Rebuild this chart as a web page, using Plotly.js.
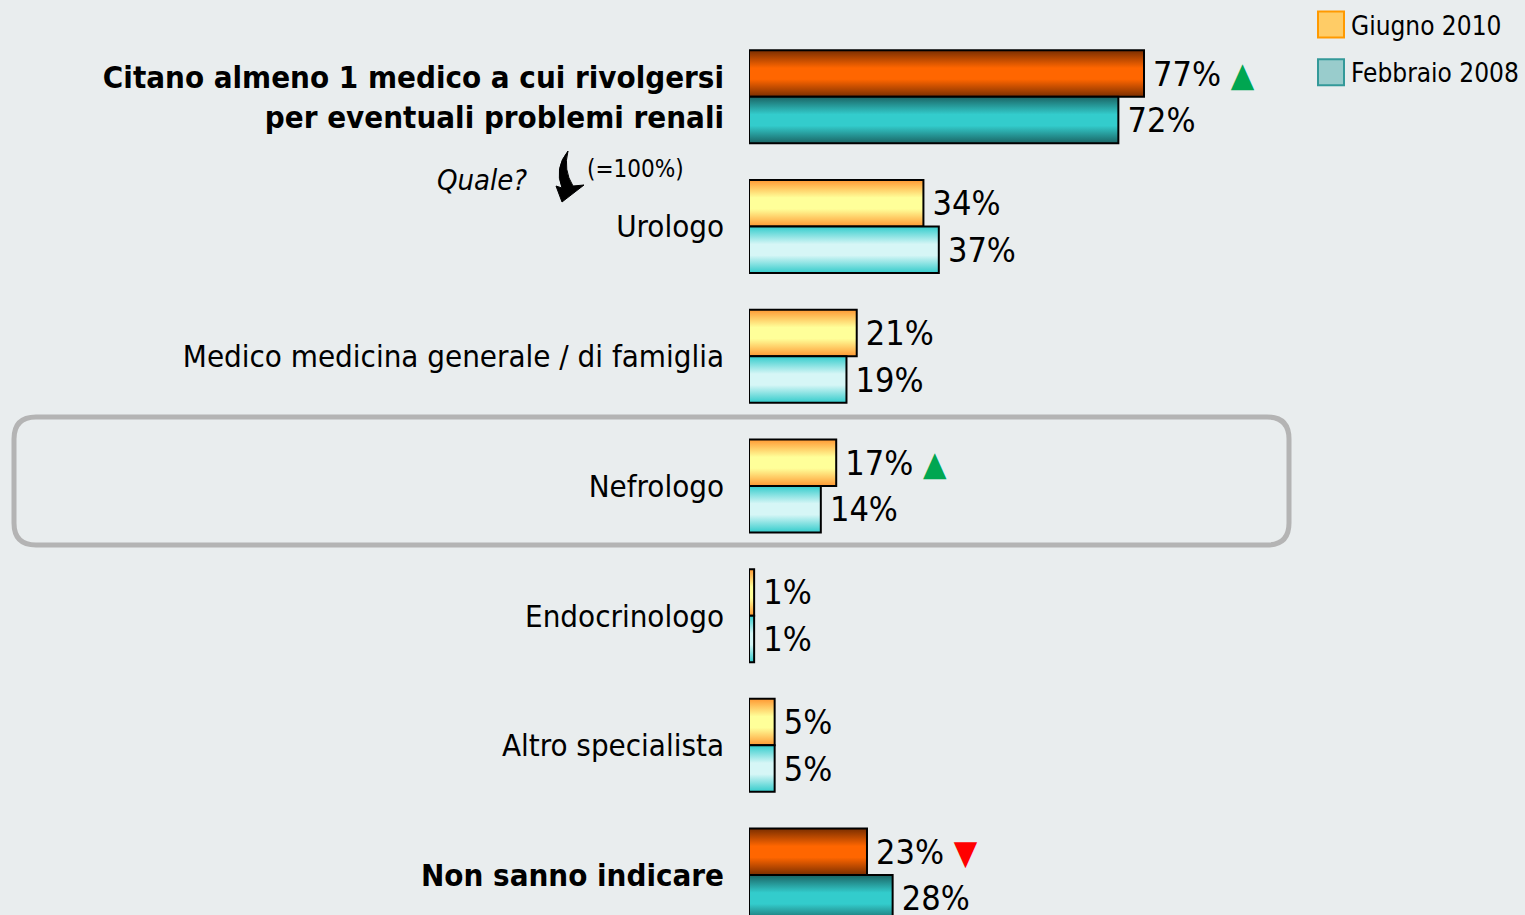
<!DOCTYPE html>
<html>
<head>
<meta charset="utf-8">
<script src="https://cdn.plot.ly/plotly-3.0.1.min.js"></script>
<style>html,body{margin:0;padding:0;background:#E9EDEE;}#chart{width:1525px;height:915px;}</style>
</head>
<body>
<div id="chart"></div>
<script>
// ---- data ----
const categories = [
  '<b>Citano almeno 1 medico a cui rivolgersi<br>per eventuali problemi renali</b>',
  'Urologo',
  'Medico medicina generale / di famiglia',
  'Nefrologo',
  'Endocrinologo',
  'Altro specialista',
  '<b>Non sanno indicare</b>'
];
const isTotal = [true, false, false, false, false, false, true];
const giugno2010 = [77, 34, 21, 17, 1, 5, 23];
const febbraio2008 = [72, 37, 19, 14, 1, 5, 28];
const trend2010 = ['up', '', '', 'up', '', '', 'down'];
const seriesNames = ['Giugno 2010', 'Febbraio 2008'];

// ---- layout helpers (pixel -> paper) ----
const FW = 1525, FH = 915;
const M = {l: 749, r: 263, t: 32, b: 0};
const PW = FW - M.l - M.r, PH = FH - M.t - M.b;
const px = x => (x - M.l) / PW;
const py = y => (FH - M.b - y) / PH;

const FONT = '"DejaVu Sans Condensed", "DejaVu Sans", Verdana, sans-serif';

function labelText(v, t) {
  let s = '\u2009' + v + '%';
  if (t === 'up') s += ' <span style="color:#00A651">▲</span>';
  if (t === 'down') s += ' <span style="color:#FF0000">▼</span>';
  return s;
}

const trace2010 = {
  type: 'bar', orientation: 'h', name: seriesNames[0], showlegend: false,
  y: categories, x: giugno2010,
  text: giugno2010.map((v, i) => labelText(v, trend2010[i])),
  textposition: 'outside', cliponaxis: false, constraintext: 'none',
  outsidetextfont: {family: FONT, size: 34, color: '#000'},
  hoverinfo: 'x',
  marker: {color: isTotal.map(b => b ? '#FF6600' : '#FFE680'), line: {color: '#000', width: 2}}
};
const trace2008 = {
  type: 'bar', orientation: 'h', name: seriesNames[1], showlegend: false,
  y: categories, x: febbraio2008,
  text: febbraio2008.map(v => labelText(v, '')),
  textposition: 'outside', cliponaxis: false, constraintext: 'none',
  outsidetextfont: {family: FONT, size: 34, color: '#000'},
  hoverinfo: 'x',
  marker: {color: isTotal.map(b => b ? '#33CCCC' : '#BFEFEF'), line: {color: '#000', width: 2}}
};
const leg2010 = {type: 'scatter', mode: 'markers', x: [null], y: [null], name: seriesNames[0], legendgroup: 'a',
  marker: {symbol: 'square', size: 16, color: '#FFCC66', line: {color: '#FF9900', width: 2}}};
const leg2008 = {type: 'scatter', mode: 'markers', x: [null], y: [null], name: seriesNames[1], legendgroup: 'b',
  marker: {symbol: 'square', size: 16, color: '#99CCCC', line: {color: '#339999', width: 2}}};

// rounded highlight box around "Nefrologo"
function roundRect(x0, y0, x1, y1, r) {
  const P = (x, y) => px(x) + ',' + py(y);
  return 'M' + P(x0 + r, y0) + ' L' + P(x1 - r, y0) + ' Q' + P(x1, y0) + ' ' + P(x1, y0 + r) +
    ' L' + P(x1, y1 - r) + ' Q' + P(x1, y1) + ' ' + P(x1 - r, y1) +
    ' L' + P(x0 + r, y1) + ' Q' + P(x0, y1) + ' ' + P(x0, y1 - r) +
    ' L' + P(x0, y0 + r) + ' Q' + P(x0, y0) + ' ' + P(x0 + r, y0) + ' Z';
}
function arrowPath() {
  const P = (x, y) => px(x) + ',' + py(y);
  return 'M' + P(568, 151) + ' Q' + P(554, 168) + ' ' + P(562, 188) +
    ' L' + P(556, 186) + ' L' + P(562, 202) + ' L' + P(584, 185) + ' L' + P(573, 186) +
    ' Q' + P(563, 170) + ' ' + P(568, 151) + ' Z';
}

const layout = {
  width: FW, height: FH,
  margin: M,
  paper_bgcolor: '#E9EDEE', plot_bgcolor: 'rgba(0,0,0,0)',
  barmode: 'group', bargap: 0.283, bargroupgap: 0,
  font: {family: FONT, color: '#000'},
  xaxis: {range: [0, 100], visible: false, fixedrange: true},
  yaxis: {type: 'category', range: [6.308, -0.5], showgrid: false, zeroline: false, showline: false,
    ticks: '', ticklabelstandoff: 24, tickfont: {family: FONT, size: 31, color: '#000'}, fixedrange: true},
  showlegend: true,
  legend: {x: px(1311), y: py(1), xanchor: 'left', yanchor: 'top', bgcolor: 'rgba(0,0,0,0)',
    font: {family: FONT, size: 26, color: '#000'}, traceorder: 'grouped', tracegroupgap: 11},
  shapes: [
    {type: 'path', xref: 'paper', yref: 'paper', path: roundRect(14, 417, 1289, 545, 22),
      line: {color: '#B4B4B4', width: 5}, fillcolor: 'rgba(0,0,0,0)', layer: 'below'},
    {type: 'path', xref: 'paper', yref: 'paper', path: arrowPath(),
      line: {color: '#000', width: 1}, fillcolor: '#000'}
  ],
  annotations: [
    {xref: 'paper', yref: 'paper', x: px(529), y: py(180), xanchor: 'right', yanchor: 'middle',
      text: '<i>Quale?</i>', showarrow: false, font: {family: FONT, size: 29, color: '#000'}},
    {xref: 'paper', yref: 'paper', x: px(585), y: py(169), xanchor: 'left', yanchor: 'middle',
      text: '(=100%)', showarrow: false, font: {family: FONT, size: 24, color: '#000'}}
  ]
};

Plotly.newPlot('chart', [trace2010, trace2008, leg2010, leg2008], layout, {displayModeBar: false, staticPlot: true})
.then(gd => {
  const NS = 'http://www.w3.org/2000/svg';
  const svg = gd.querySelector('.main-svg');
  let defs = svg.querySelector('defs');
  if (!defs) { defs = document.createElementNS(NS, 'defs'); svg.insertBefore(defs, svg.firstChild); }
  const grads = {
    o_dark: ['#7A2E00', '#FF6600', '#FF6600', '#7A2E00'],
    o_light: ['#FF9933', '#FFFF99', '#FFFF99', '#FF9933'],
    t_dark: ['#1A6464', '#33CCCC', '#33CCCC', '#1A6464'],
    t_light: ['#33CCCC', '#D6F6F6', '#D6F6F6', '#33CCCC']
  };
  const offs = [0, 0.38, 0.62, 1];
  Object.keys(grads).forEach(k => {
    const g = document.createElementNS(NS, 'linearGradient');
    g.setAttribute('id', 'grad_' + k);
    g.setAttribute('x1', '0'); g.setAttribute('y1', '0'); g.setAttribute('x2', '0'); g.setAttribute('y2', '1');
    grads[k].forEach((c, i) => {
      const s = document.createElementNS(NS, 'stop');
      s.setAttribute('offset', offs[i]); s.setAttribute('stop-color', c);
      g.appendChild(s);
    });
    defs.appendChild(g);
  });
  const traces = gd.querySelectorAll('.barlayer .trace');
  traces.forEach((tr, ti) => {
    tr.querySelectorAll('.point').forEach((pt, pi) => {
      const path = pt.querySelector('path');
      if (!path) return;
      const key = (ti === 0 ? 'o_' : 't_') + (isTotal[pi] ? 'dark' : 'light');
      path.style.fill = 'url(#grad_' + key + ')';
    });
  });
  gd.querySelectorAll('.legend .legendpoints path').forEach(p => {
    p.setAttribute('d', 'M13,13H-13V-13H13Z');
  });
});
</script>
</body>
</html>
